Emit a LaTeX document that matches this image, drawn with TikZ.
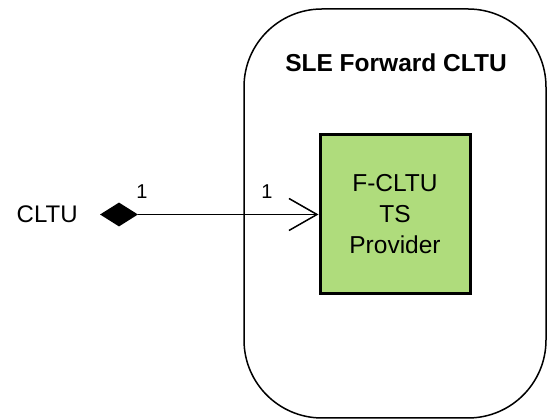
\documentclass[tikz,border=0pt]{standalone}
\usepackage{fontspec}
\setmainfont{Liberation Sans}
\usetikzlibrary{arrows.meta,positioning,shapes.geometric}
\definecolor{leafbox}{RGB}{175,220,124}
\definecolor{ink}{RGB}{0,0,0}
\tikzset{
  x=1pt,y=1pt,
  system/.style={draw=ink,line width=1.5pt,rounded corners=78pt,
    minimum width=302pt,minimum height=409pt,inner sep=0pt},
  role/.style={draw=ink,fill=#1,line width=3pt,minimum width=150pt,
    minimum height=159pt,align=center,font=\fontsize{24.5}{31}\selectfont},
  role/.default=leafbox,
  agg/.style={diamond,fill=ink,inner sep=0pt,minimum width=38pt,minimum height=24pt},
  mult/.style={font=\fontsize{20}{22}\selectfont,inner sep=0pt},
  tag/.style={font=\fontsize{24}{26}\selectfont,inner sep=0pt},
  link/.style={draw=ink,line width=1pt,-{Straight Barb[length=28pt,width=32pt,line width=1.5pt]}},
}
\begin{document}
\begin{tikzpicture}
  \useasboundingbox (0,0) rectangle (547,419);
  \node[system] (sle) at (395,205.5) {};
  \node[tag,font=\fontsize{24.5}{26}\selectfont\bfseries] (title) at (396,356) {SLE Forward CLTU};
  \node[role] (prov) at (395,204.5) {F-CLTU\\TS\\Provider};
  \node[agg] (cltu) at (119,204.5) {};
  \node[tag,left=22pt of cltu] (name) {CLTU};
  \node[mult] (m1) at (142,227) {1};
  \node[mult] (m2) at (267,227) {1};
  \draw[link] (cltu.east) -- (prov.west);
\end{tikzpicture}
\end{document}
